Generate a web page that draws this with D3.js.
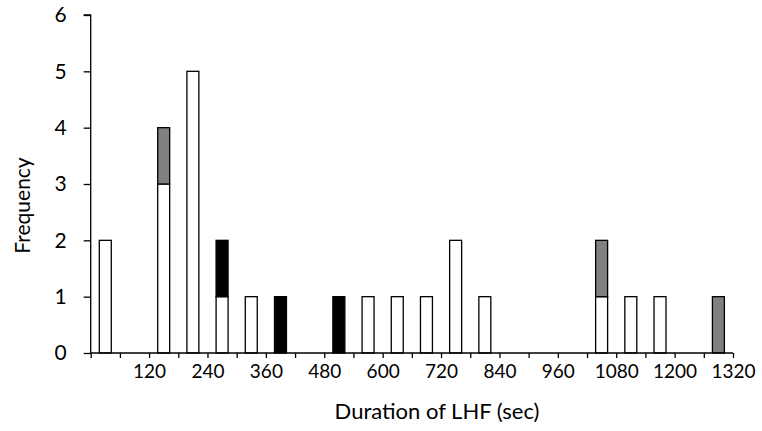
<!DOCTYPE html>
<html>
<head>
<meta charset="utf-8">
<script src="https://cdn.jsdelivr.net/npm/d3@7"></script>
<style>
  html, body { margin: 0; padding: 0; background: #fff; }
  svg { display: block; }
  text { font-family: Lato, "Open Sans", sans-serif; fill: #000; }
</style>
</head>
<body>
<svg id="chart" width="762" height="431"></svg>
<script>
// Bin start (sec); each bin is 60 sec wide
const binStarts = [0,60,120,180,240,300,360,420,480,540,600,660,720,780,840,900,960,1020,1080,1140,1200,1260];
const whiteSeries = [2,0,3,5,1,1,0,0,0,1,1,1,2,1,0,0,0,1,1,1,0,0];
const blackSeries = [0,0,0,0,1,0,1,0,1,0,0,0,0,0,0,0,0,0,0,0,0,0];
const graySeries  = [0,0,1,0,0,0,0,0,0,0,0,0,0,0,0,0,0,1,0,0,0,1];
const xTickLabels = [120,240,360,480,600,720,840,960,1080,1200,1320];
const yTicks = [0,1,2,3,4,5,6];

const svg = d3.select("#chart");
const mLeft = 90.7, mRight = 733, mTop = 15, mBottom = 353;

const x = d3.scaleLinear().domain([0, 1320]).range([mLeft, mRight]);
const y = d3.scaleLinear().domain([0, 6]).range([mBottom, mTop]);

const rows = binStarts.map((b, i) => ({bin: b, white: whiteSeries[i], black: blackSeries[i], gray: graySeries[i]}));
const keys = ["white", "black", "gray"];
const fills = {white: "#ffffff", black: "#000000", gray: "#808080"};
const stack = d3.stack().keys(keys)(rows);

const binW = x(60) - x(0);
const barW = binW * 0.41;

svg.append("g").selectAll("g").data(stack).join("g")
  .attr("fill", d => fills[d.key])
  .selectAll("rect").data(d => d.filter(s => s[1] > s[0])).join("rect")
  .attr("x", d => x(d.data.bin + 30) - barW / 2)
  .attr("width", barW)
  .attr("y", d => y(d[1]))
  .attr("height", d => y(d[0]) - y(d[1]))
  .attr("stroke", "#000")
  .attr("stroke-width", 1.3);

// Y axis
const yAxis = d3.axisLeft(y).tickValues(yTicks).tickSize(7).tickPadding(17).tickFormat(d3.format("d"));
const gy = svg.append("g").attr("transform", `translate(${mLeft},0)`).call(yAxis);
gy.select(".domain").attr("d", `M-7,${mTop}H0V${mBottom}`).attr("stroke", "#000").attr("stroke-width", 1.3);
gy.selectAll(".tick line").attr("stroke", "#000").attr("stroke-width", 1.3);
gy.selectAll(".tick text").attr("font-size", 21).attr("font-family", "Lato, sans-serif");

// X axis: ticks every 60, labels every 120
const xAxis = d3.axisBottom(x).tickValues(d3.range(0, 1321, 60)).tickSize(5).tickPadding(7)
  .tickFormat(d => xTickLabels.includes(d) ? String(d) : "");
const gx = svg.append("g").attr("transform", `translate(0,${mBottom})`).call(xAxis);
gx.select(".domain").attr("d", `M${mLeft},0H${mRight}`).attr("stroke", "#000").attr("stroke-width", 1.3);
gx.selectAll(".tick line").attr("stroke", "#000").attr("stroke-width", 1.3);
gx.selectAll(".tick text").attr("font-size", 19).attr("font-family", "Lato, sans-serif");

// Titles
svg.append("text").attr("x", 437).attr("y", 419).attr("text-anchor", "middle")
  .attr("font-size", 22).text("Duration of LHF (sec)");
svg.append("text").attr("transform", "translate(30,205.5) rotate(-90)").attr("text-anchor", "middle")
  .attr("font-size", 21).text("Frequency");
</script>
</body>
</html>
